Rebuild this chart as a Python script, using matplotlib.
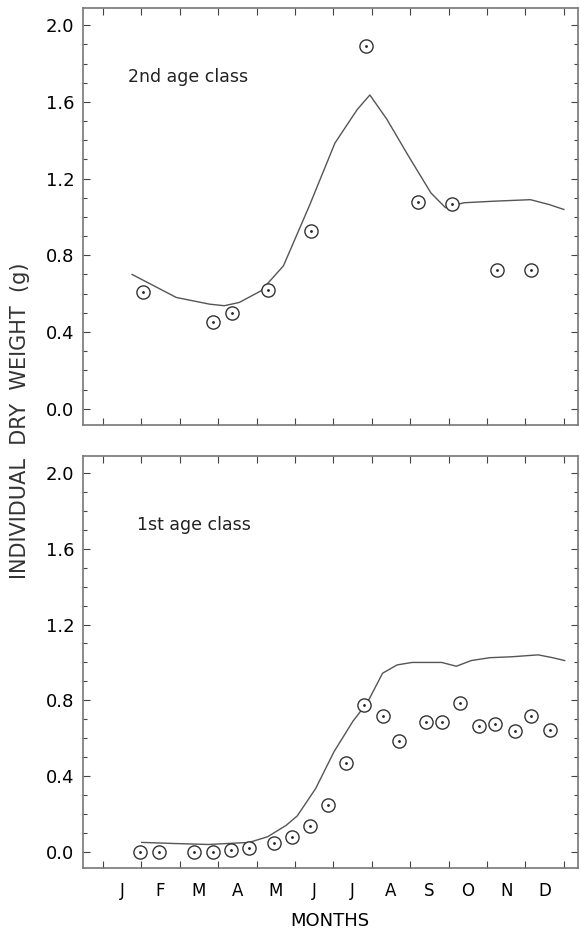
import numpy as np
import matplotlib
matplotlib.use('Agg')
import matplotlib.pyplot as plt

plt.rcParams['font.family'] = ['DejaVu Sans']

months = ['J', 'F', 'M', 'A', 'M', 'J', 'J', 'A', 'S', 'O', 'N', 'D']

# 2nd age class: observed points and model curve (x in months from 1 Jan)
obs2_x = [1.05, 2.87, 3.37, 4.31, 5.43, 6.86, 8.19, 9.10, 10.25, 11.15]
obs2_y = [0.606, 0.45, 0.50, 0.62, 0.926, 1.89, 1.08, 1.065, 0.724, 0.724]
mod2_x = [0.76, 1.91, 2.78, 3.16, 3.55, 4.12, 4.70, 5.37, 6.04, 6.62, 6.95,
          7.39, 7.96, 8.54, 8.92, 9.40, 10.17, 11.13, 11.61, 12.0]
mod2_y = [0.70, 0.58, 0.545, 0.537, 0.554, 0.615, 0.745, 1.056, 1.385, 1.56,
          1.636, 1.51, 1.316, 1.125, 1.048, 1.074, 1.082, 1.09, 1.065, 1.039]

# 1st age class
obs1_x = [0.96, 1.45, 2.36, 2.86, 3.34, 3.81, 4.45, 4.92, 5.40, 5.85, 6.33,
          6.81, 7.30, 7.71, 8.41, 8.84, 9.30, 9.78, 10.22, 10.73, 11.15, 11.64]
obs1_y = [0.0, 0.0, 0.0, 0.0, 0.01, 0.02, 0.046, 0.078, 0.136, 0.247, 0.47,
          0.775, 0.716, 0.585, 0.684, 0.684, 0.788, 0.665, 0.673, 0.638, 0.716, 0.641]
mod1_x = [1.01, 1.88, 2.75, 3.81, 4.29, 4.77, 5.06, 5.54, 6.02, 6.51, 6.89,
          7.28, 7.66, 8.05, 8.43, 8.82, 9.20, 9.59, 10.07, 10.65, 11.33, 11.71, 12.02]
mod1_y = [0.05, 0.044, 0.039, 0.05, 0.08, 0.14, 0.19, 0.335, 0.53, 0.69, 0.79,
          0.943, 0.987, 1.0, 1.0, 1.0, 0.98, 1.01, 1.025, 1.03, 1.04, 1.025, 1.01]

fig = plt.figure(figsize=(5.8, 9.33), dpi=100)
ax_top = fig.add_axes([0.143, 0.5445, 0.853, 0.447])
ax_bot = fig.add_axes([0.143, 0.0697, 0.853, 0.4416])

panels = [(ax_top, obs2_x, obs2_y, mod2_x, mod2_y, '2nd age class', 0.091, 0.835),
          (ax_bot, obs1_x, obs1_y, mod1_x, mod1_y, '1st age class', 0.109, 0.833)]

for ax, ox, oy, mx, my, label, tx, ty in panels:
    ax.plot(mx, my, color='#555555', lw=1.0)
    ax.plot(ox, oy, 'o', ms=9.5, mfc='white', mec='#333333', mew=1.0)
    ax.plot(ox, oy, '.', ms=2, color='#222222')
    ax.set_xlim(-0.52, 12.36)
    ax.set_ylim(-0.085, 2.09)
    ax.set_yticks(np.arange(0, 2.01, 0.4))
    ax.set_yticks(np.arange(0, 2.05, 0.1), minor=True)
    ax.set_yticklabels(['0.0', '0.4', '0.8', '1.2', '1.6', '2.0'], fontsize=13)
    ax.set_xticks(np.arange(0, 13))
    ax.set_xticklabels([])
    ax.tick_params(which='both', direction='in', top=True, right=True,
                   color='#444444', width=0.8)
    ax.tick_params(which='major', length=5, pad=6)
    ax.tick_params(axis='y', which='minor', length=3)
    for s in ax.spines.values():
        s.set_color('#777777')
        s.set_linewidth(1.2)
    ax.text(tx, ty, label, transform=ax.transAxes, fontsize=12.5,
            ha='left', va='center', color='#222222')

ax_bot.set_xticks(np.arange(12) + 0.5, minor=True)
ax_bot.set_xticklabels(months, minor=True, fontsize=12)
ax_bot.tick_params(axis='x', which='minor', length=0, pad=10)
ax_bot.set_xlabel('MONTHS', fontsize=13, labelpad=9)

fig.text(0.034, 0.549, 'INDIVIDUAL  DRY  WEIGHT  (g)', rotation=90,
         ha='center', va='center', fontsize=15, color='#333333')

fig.savefig('out.png', dpi=100)
